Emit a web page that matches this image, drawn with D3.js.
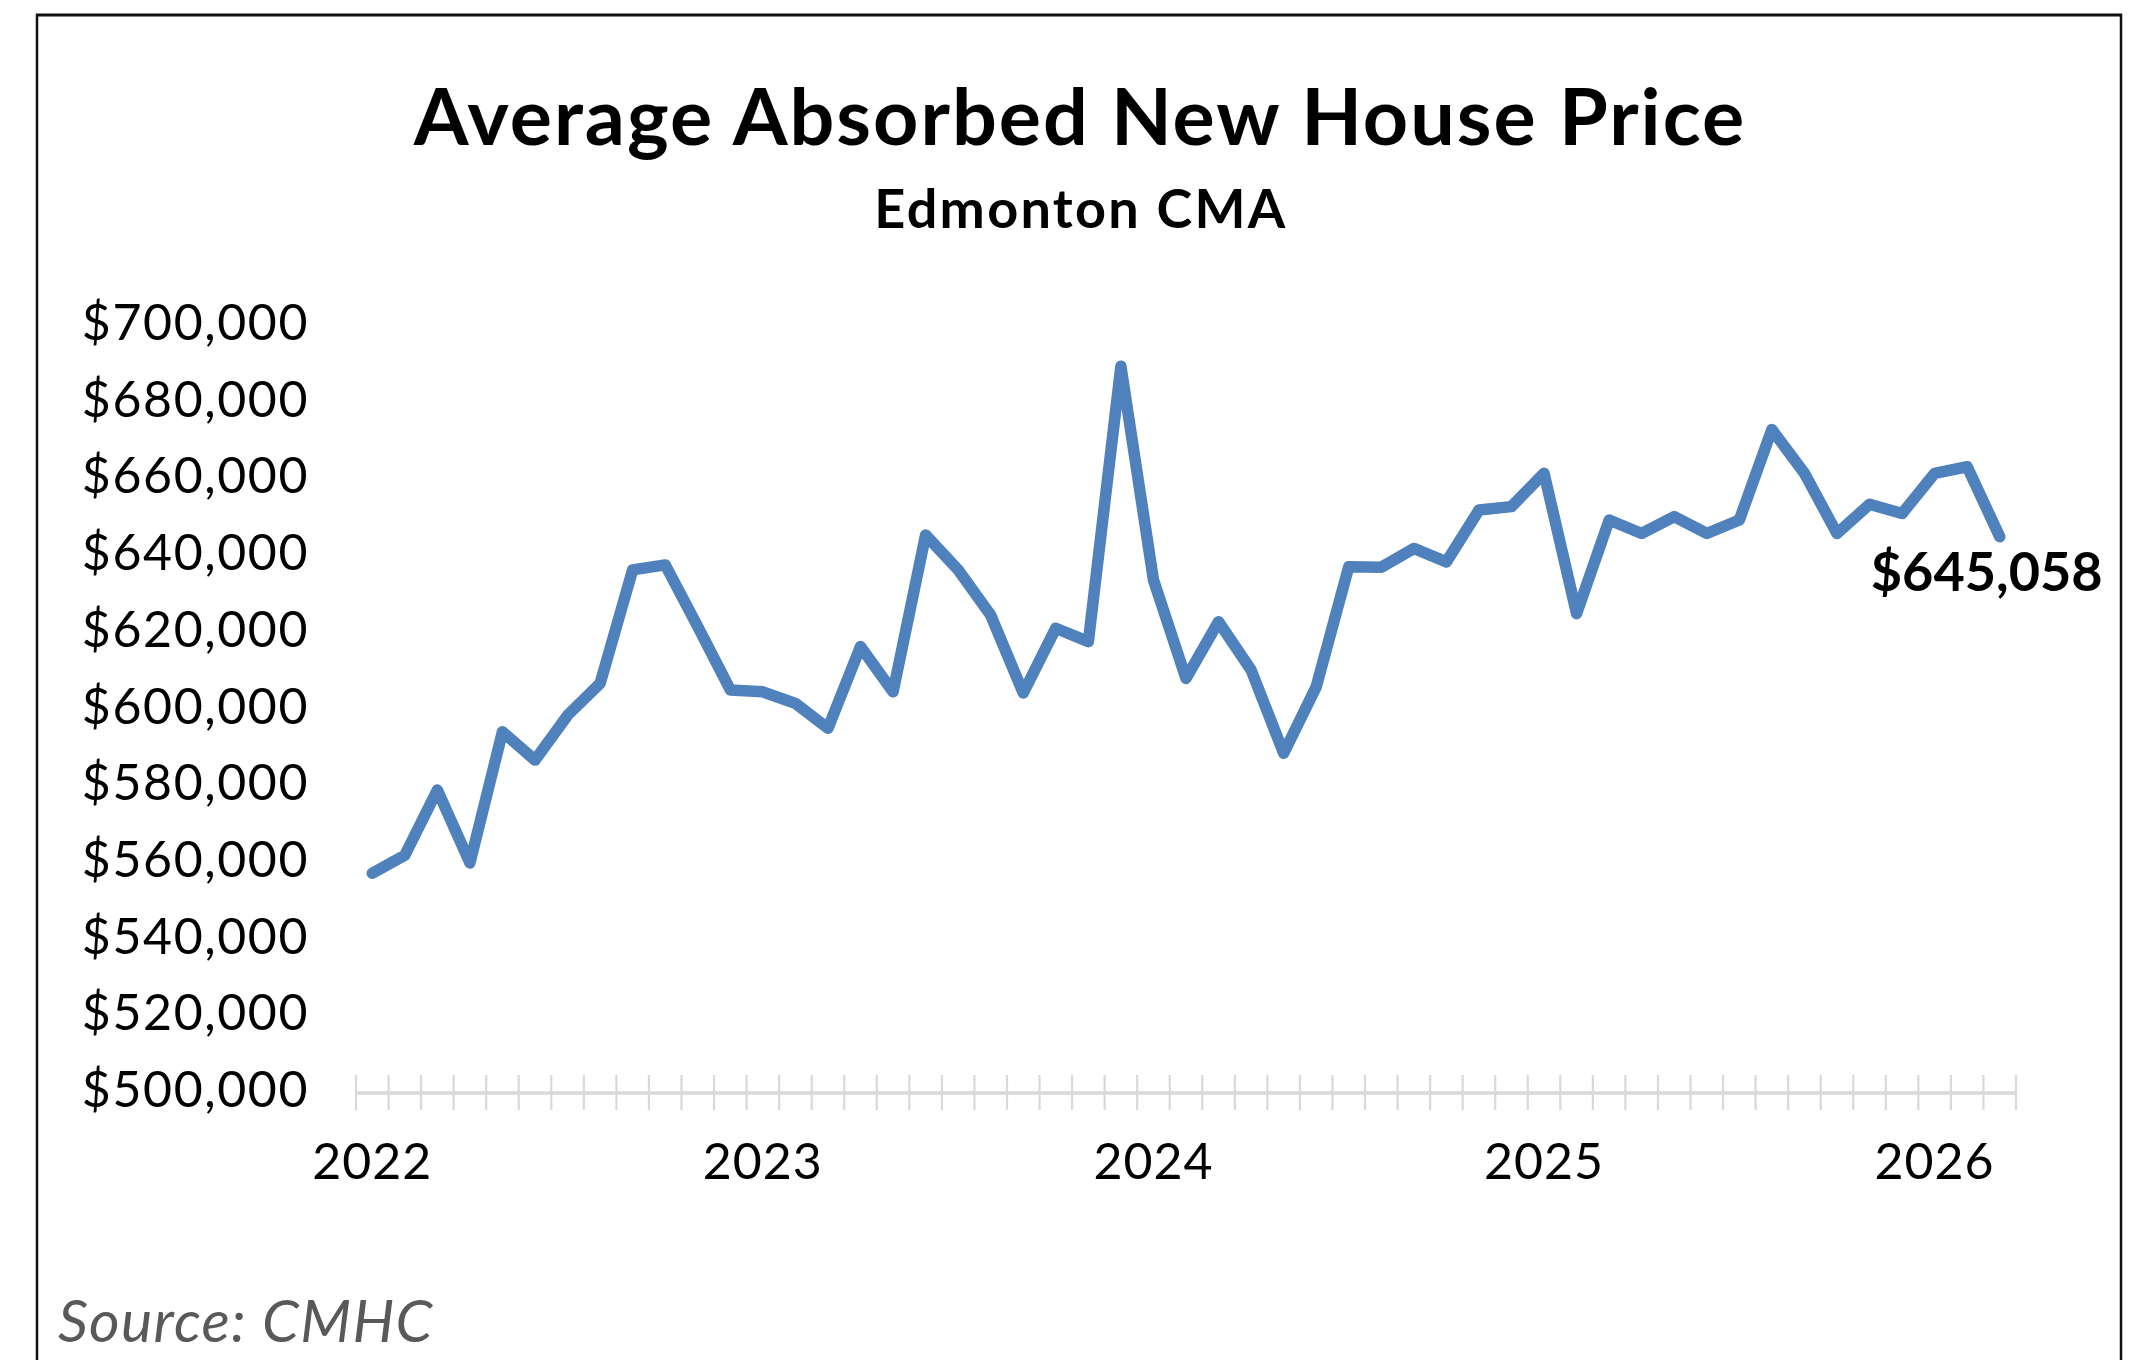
<!DOCTYPE html>
<html>
<head>
<meta charset="utf-8">
<script src="https://cdn.jsdelivr.net/npm/d3@7"></script>
<style>
  html, body { margin: 0; padding: 0; background: #fff; }
  svg { display: block; }
</style>
</head>
<body>
<svg id="chart" width="2131" height="1360"></svg>
<script>
// ---- Data ----
const months = [
  "2022-01","2022-02","2022-03","2022-04","2022-05","2022-06","2022-07","2022-08","2022-09","2022-10","2022-11","2022-12",
  "2023-01","2023-02","2023-03","2023-04","2023-05","2023-06","2023-07","2023-08","2023-09","2023-10","2023-11","2023-12",
  "2024-01","2024-02","2024-03","2024-04","2024-05","2024-06","2024-07","2024-08","2024-09","2024-10","2024-11","2024-12",
  "2025-01","2025-02","2025-03","2025-04","2025-05","2025-06","2025-07","2025-08","2025-09","2025-10","2025-11","2025-12",
  "2026-01","2026-02","2026-03"
];
const prices = [
  557300, 562000, 579000, 560000, 594200, 586800, 598500, 606800, 636400, 637700, 621600, 605100,
  604600, 601600, 595100, 616400, 604600, 645500, 636400, 624600, 604300, 621200, 617700, 689500,
  633800, 608100, 622900, 610300, 588600, 605900, 637200, 637100, 642000, 638500, 652000, 652900,
  661600, 625000, 649400, 645900, 650300, 645900, 649400, 673000, 661600, 645900, 653500, 651100,
  661600, 663300, 645058
];
const yTicks = [500000, 520000, 540000, 560000, 580000, 600000, 620000, 640000, 660000, 680000, 700000];
const yearLabels = ["2022","2023","2024","2025","2026"];
const title = "Average Absorbed New House Price";
const subtitle = "Edmonton CMA";
const source = "Source: CMHC";
const lastLabel = "$645,058";

// ---- Layout ----
const svg = d3.select("#chart");
const FONT = "Lato, 'Open Sans', sans-serif";
const plotLeft = 356, plotRight = 2016;
const yBottom = 1093, yTop = 326;

// frame
svg.append("line").attr("x1", 36).attr("x2", 2122).attr("y1", 15).attr("y2", 15)
  .attr("stroke", "#111").attr("stroke-width", 3);
svg.append("line").attr("x1", 37).attr("x2", 37).attr("y1", 14).attr("y2", 1360)
  .attr("stroke", "#111").attr("stroke-width", 2.5);
svg.append("line").attr("x1", 2121).attr("x2", 2121).attr("y1", 14).attr("y2", 1360)
  .attr("stroke", "#111").attr("stroke-width", 2.5);

// titles
svg.append("text").attr("x", 1080).attr("y", 145).attr("text-anchor", "middle")
  .attr("font-family", FONT).attr("font-weight", 700).attr("font-size", 79)
  .attr("letter-spacing", 2).attr("fill", "#000").text(title);
svg.append("text").attr("x", 1081).attr("y", 228).attr("text-anchor", "middle")
  .attr("font-family", FONT).attr("font-weight", 700).attr("font-size", 54)
  .attr("letter-spacing", 2.3).attr("fill", "#000").text(subtitle);

// scales
const x = d3.scalePoint().domain(months).range([plotLeft, plotRight]).padding(0.5);
const xBand = d3.scaleBand().domain(months).range([plotLeft, plotRight]).paddingInner(0).paddingOuter(0);
const y = d3.scaleLinear().domain([500000, 700000]).range([yBottom, yTop]);

// y labels
const fmt = d3.format("$,.0f");
svg.append("g").selectAll("text").data(yTicks).join("text")
  .attr("x", 309).attr("y", d => y(d) + 14)
  .attr("text-anchor", "end")
  .attr("font-family", FONT).attr("font-size", 50).attr("letter-spacing", 1.6).attr("fill", "#000")
  .text(d => fmt(d));

// x axis line and ticks
const axisColor = "#d9d9d9";
svg.append("line").attr("x1", plotLeft).attr("x2", plotRight)
  .attr("y1", y(500000)).attr("y2", y(500000))
  .attr("stroke", axisColor).attr("stroke-width", 3.5);
const tickPos = months.map(m => xBand(m)).concat([xBand(months[months.length - 1]) + xBand.bandwidth()]);
svg.append("g").selectAll("line").data(tickPos).join("line")
  .attr("x1", d => d).attr("x2", d => d)
  .attr("y1", y(500000) - 18).attr("y2", y(500000) + 17)
  .attr("stroke", axisColor).attr("stroke-width", 2.2);

// year labels
svg.append("g").selectAll("text").data(yearLabels).join("text")
  .attr("x", d => x(d + "-01")).attr("y", 1179)
  .attr("text-anchor", "middle")
  .attr("font-family", FONT).attr("font-size", 50).attr("letter-spacing", 1).attr("fill", "#000")
  .text(d => d);

// line
const line = d3.line().x((d, i) => x(months[i])).y(d => y(d));
svg.append("path").datum(prices)
  .attr("d", line)
  .attr("fill", "none").attr("stroke", "#4f81bd").attr("stroke-width", 11.5)
  .attr("stroke-linejoin", "round").attr("stroke-linecap", "round");

// last value label
const lastM = months[months.length - 1];
svg.append("text").attr("x", x(lastM) - 13).attr("y", y(prices[prices.length - 1]) + 54)
  .attr("text-anchor", "middle")
  .attr("font-family", FONT).attr("font-weight", 700).attr("font-size", 54).attr("fill", "#000")
  .text(lastLabel);

// source
svg.append("text").attr("x", 58).attr("y", 1342)
  .attr("font-family", FONT).attr("font-style", "italic").attr("font-size", 59)
  .attr("letter-spacing", 1.3).attr("fill", "#595959")
  .text(source);
</script>
</body>
</html>
